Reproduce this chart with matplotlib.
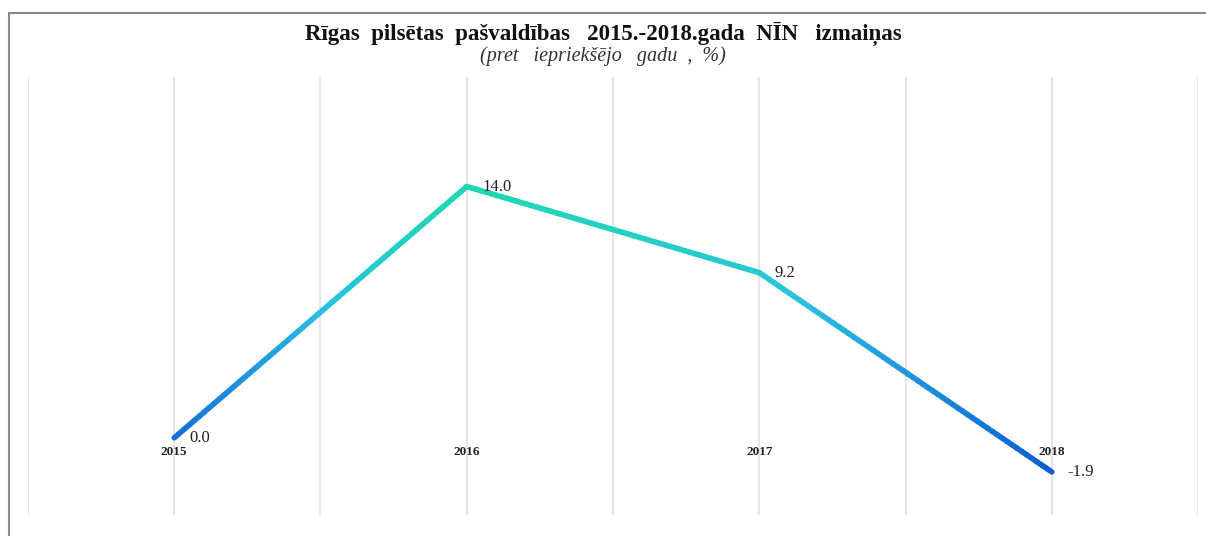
import numpy as np
import matplotlib

matplotlib.use("Agg")
import matplotlib.pyplot as plt
from matplotlib.collections import LineCollection
from matplotlib.colors import LinearSegmentedColormap
from matplotlib.patches import Rectangle

years = ["2015", "2016", "2017", "2018"]
change = [0.0, 14.0, 9.2, -1.9]
labels = ["0.0", "14.0", "9.2", "-1.9"]

plt.rcParams["font.family"] = ["Liberation Serif", "DejaVu Serif"]

fig = plt.figure(figsize=(12.06, 5.36), dpi=100)
ax = fig.add_axes([0.0232, 0.0392, 0.9702, 0.8171])

xs = np.arange(len(years))
ax.set_xlim(-0.5, 3.5)
ax.set_ylim(-4.3, 20.1)

# vertical gridlines at every half category
for gx in np.arange(-0.5, 3.51, 0.5):
    ax.axvline(gx, color="#e6e6e6", lw=1.6, zorder=0)

# gradient line: colour follows value
cmap = LinearSegmentedColormap.from_list(
    "nin", [(0.0, "#0a5fce"), (0.25, "#1a86dc"), (0.6, "#2bc3de"), (1.0, "#1ed9b0")])
pts_x, pts_y = [], []
for i in range(len(xs) - 1):
    t = np.linspace(0, 1, 60)
    pts_x.extend(xs[i] + (xs[i + 1] - xs[i]) * t)
    pts_y.extend(change[i] + (change[i + 1] - change[i]) * t)
pts = np.column_stack([pts_x, pts_y]).reshape(-1, 1, 2)
segs = np.concatenate([pts[:-1], pts[1:]], axis=1)
lc = LineCollection(segs, cmap=cmap, norm=plt.Normalize(min(change), max(change)),
                    linewidth=4, capstyle="round", joinstyle="round", zorder=3)
lc.set_array((np.array(pts_y[:-1]) + np.array(pts_y[1:])) / 2)
ax.add_collection(lc)

for x, v, lab in zip(xs, change, labels):
    ax.annotate(lab, (x, v), xytext=(11, 0), textcoords="offset points",
                ha="left", va="center", fontsize=12, color="#222222", zorder=4)
    ax.text(x, -0.45, years[x], ha="center", va="top", fontsize=9.5,
            fontweight="bold", color="#222222", zorder=4)

ax.set_xticks([])
ax.set_yticks([])
for s in ax.spines.values():
    s.set_visible(False)

fig.text(0.5, 0.934, "Rīgas  pilsētas  pašvaldības   2015.-2018.gada  NĪN   izmaiņas",
         ha="center", va="center", fontsize=16.5, fontweight="bold", color="#111111")
fig.text(0.5, 0.895, "(pret   iepriekšējo   gadu  ,  %)", ha="center", va="center",
         fontsize=14.5, style="italic", color="#333333")

# outer frame (top and left edges visible)
fig.add_artist(Rectangle((0.0075, -0.1), 1.1, 1.076,
                         transform=fig.transFigure, fill=False, ec="#8a8a8a", lw=1.5))

fig.savefig("out.png", dpi=100, facecolor="white")
